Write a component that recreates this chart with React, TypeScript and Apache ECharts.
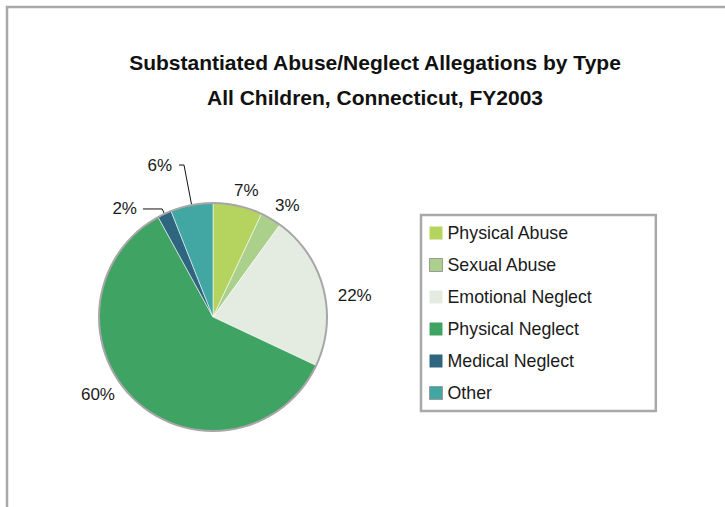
import React, { useEffect, useRef } from "react";
import * as echarts from "echarts";

const titleLines = [
  "Substantiated Abuse/Neglect Allegations by Type",
  "All Children, Connecticut, FY2003",
];
const categories = [
  "Physical Abuse",
  "Sexual Abuse",
  "Emotional Neglect",
  "Physical Neglect",
  "Medical Neglect",
  "Other",
];
const values = [7, 3, 22, 60, 2, 6];

// styles (not data)
const sliceColors = ["#b5d35f", "#aad08c", "#e4ece1", "#3fa463", "#2e6680", "#42a6a3"];
const legendIconBorder = ["none", "#9a9a9a", "none", "none", "none", "#9a9a9a"];
// label placement per slice: [lineLength, lineLength2, distance, showLine]
const labelPlacement: [number, number, number, boolean][] = [
  [16, -12.4, 5, false],
  [16, -9.2, 5, false],
  [-28, 36.4, 5, false],
  [-7, 19.8, 5, false],
  [5.4, 19.2, 6, true],
  [40.7, 5, 7, true],
];

export default function App() {
  const ref = useRef<HTMLDivElement>(null);
  useEffect(() => {
    if (!ref.current) return;
    const chart = echarts.init(ref.current, null, { renderer: "svg" });
    const labelFont = "'Liberation Sans', Arial, sans-serif";
    chart.setOption({
      animation: false,
      backgroundColor: "#ffffff",
      title: {
        text: titleLines.join("\n"),
        left: 370,
        top: 40,
        textAlign: "center",
        textStyle: {
          fontFamily: "'Liberation Sans', Arial, sans-serif",
          fontWeight: "bold",
          fontSize: 21,
          lineHeight: 35,
          color: "#111111",
        },
      },
      graphic: [
        {
          type: "rect",
          silent: true,
          shape: { x: 7, y: 7, width: 900, height: 700 },
          style: { fill: "none", stroke: "#a9a9a9", lineWidth: 2.5 },
        },
      ],
      legend: {
        orient: "vertical",
        left: 421,
        top: 215,
        padding: [9, 64, 9, 8],
        itemWidth: 13,
        itemHeight: 13,
        itemGap: 14,
        borderColor: "#a9a9a9",
        borderWidth: 2.5,
        icon: "rect",
        selectedMode: false,
        itemStyle: { borderWidth: 0 },
        textStyle: { fontFamily: labelFont, fontSize: 17.8, lineHeight: 17, color: "#1a1a1a" },
        data: categories.map((name, i) => ({
          name,
          itemStyle:
            legendIconBorder[i] === "none"
              ? { borderWidth: 0 }
              : { borderColor: legendIconBorder[i], borderWidth: 1 },
        })),
      },
      series: [
        {
          type: "pie",
          center: [213, 317],
          radius: 114,
          startAngle: 90,
          clockwise: true,
          avoidLabelOverlap: false,
          itemStyle: { borderColor: "rgba(255,255,255,0.8)", borderWidth: 0.7 },
          label: {
            position: "outside",
            formatter: "{c}%",
            fontFamily: labelFont,
            fontSize: 17,
            color: "#1a1a1a",
          },
          labelLine: { lineStyle: { color: "#111111", width: 1 } },
          emphasis: { disabled: true },
          data: categories.map((name, i) => ({
            name,
            value: values[i],
            itemStyle: { color: sliceColors[i] },
            label: { distanceToLabelLine: labelPlacement[i][2] },
            labelLine: {
              show: labelPlacement[i][3],
              length: labelPlacement[i][0],
              length2: labelPlacement[i][1],
              smooth: false,
            },
          })),
        },
        {
          type: "pie",
          center: [213, 317],
          radius: [113, 115],
          silent: true,
          label: { show: false },
          labelLine: { show: false },
          itemStyle: { color: "#a6a6a6" },
          emphasis: { disabled: true },
          data: [{ name: "", value: 1 }],
        },
      ],
    });
    return () => chart.dispose();
  }, []);
  return (
    <div
      ref={ref}
      style={{ position: "fixed", left: 0, top: 0, width: 725, height: 507, background: "#fff" }}
    />
  );
}
